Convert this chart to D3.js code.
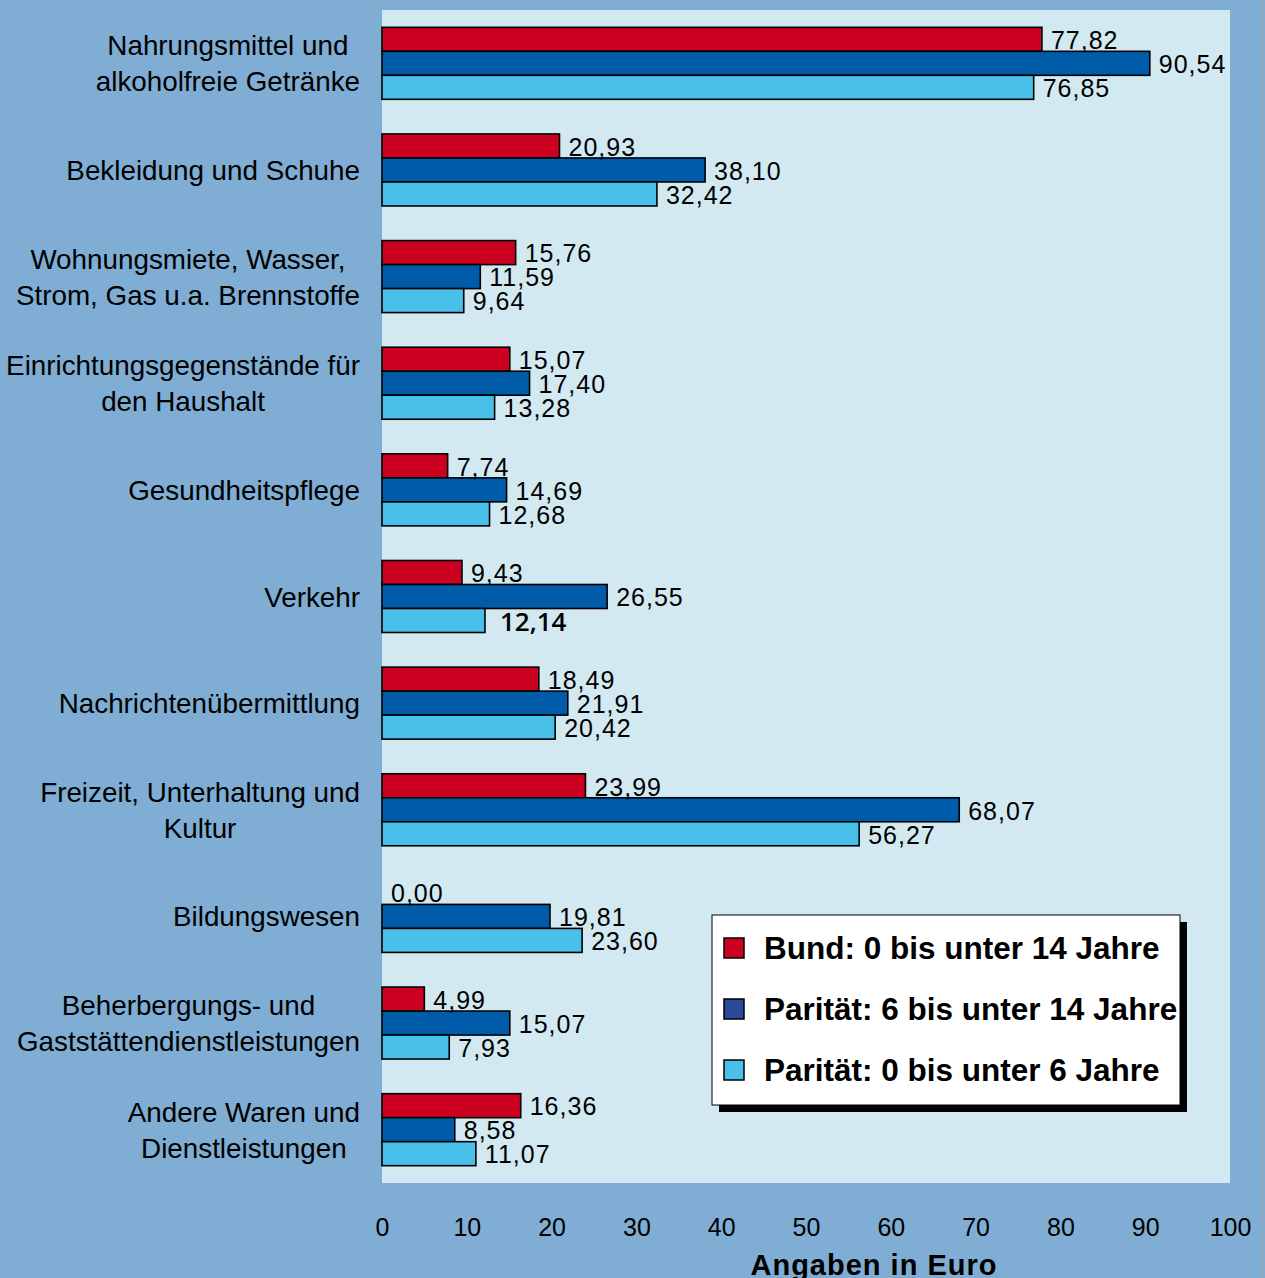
<!DOCTYPE html>
<html>
<head>
<meta charset="utf-8">
<script src="https://cdn.jsdelivr.net/npm/d3@7"></script>
<style>
body { margin: 0; background: #7fadd3; }
svg { display: block; font-family: "Liberation Sans", Arial, sans-serif; }
</style>
</head>
<body>
<svg width="1265" height="1278"></svg>
<script>

// dados
const categorias = [
    "Nahrungsmittel und|alkoholfreie Getränke",
    "Bekleidung und Schuhe",
    "Wohnungsmiete, Wasser,|Strom, Gas u.a. Brennstoffe",
    "Einrichtungsgegenstände für|den Haushalt",
    "Gesundheitspflege",
    "Verkehr",
    "Nachrichtenübermittlung",
    "Freizeit, Unterhaltung und|Kultur",
    "Bildungswesen",
    "Beherbergungs- und|Gaststättendienstleistungen",
    "Andere Waren und|Dienstleistungen"
];

const series = [
    "Bund: 0 bis unter 14 Jahre",
    "Parität: 6 bis unter 14 Jahre",
    "Parität: 0 bis unter 6 Jahre"
];

const bund_0_14 = [77.82, 20.93, 15.76, 15.07, 7.74, 9.43, 18.49, 23.99, 0.00, 4.99, 16.36];
const paritaet_6_14 = [90.54, 38.10, 11.59, 17.40, 14.69, 26.55, 21.91, 68.07, 19.81, 15.07, 8.58];
const paritaet_0_6 = [76.85, 32.42, 9.64, 13.28, 12.68, 12.14, 20.42, 56.27, 23.60, 7.93, 11.07];

const x_ticks = [0, 10, 20, 30, 40, 50, 60, 70, 80, 90, 100];

const vis = {

    sels : {
        svg : null
    },

    params : {
        plot : { left : 382, right : 1230, top : 10, bottom : 1183 },
        bar_h : 24,
        cores : ["#cc0020", "#005ca8", "#48c0ea"],
        cores_legenda : ["#cc0020", "#2b4a9a", "#48c0ea"],
        fundo_plot : "#d2e9f1",
        destaque : { cat : 5, serie : 2 } // o "12,14" aparece em negrito
    },

    scales : {
        x : null,
        y : null,
        y_serie : null
    },

    data : null,

    utils : {

        monta_dados : function() {

            const valores = [bund_0_14, paritaet_6_14, paritaet_0_6];

            vis.data = categorias.map((cat, i) => ({
                cat : cat,
                i : i,
                valores : valores.map((v, s) => ({ serie : s, valor : v[i], cat : i }))
            }));

        },

        formata : v => d3.format(".2f")(v).replace(".", ",")

    },

    render : {

        scales : function() {

            const p = vis.params.plot;

            vis.scales.x = d3.scaleLinear()
              .domain([0, 100])
              .range([p.left, p.right]);

            vis.scales.y = d3.scaleBand()
              .domain(categorias)
              .range([p.top, p.bottom]);

            vis.scales.y_serie = d3.scaleBand()
              .domain(d3.range(series.length))
              .range([0, vis.params.bar_h * series.length]);

        },

        fundo : function() {

            const p = vis.params.plot;

            vis.sels.svg.append("rect")
              .attr("x", p.left)
              .attr("y", p.top)
              .attr("width", p.right - p.left)
              .attr("height", p.bottom - p.top)
              .attr("fill", vis.params.fundo_plot);

            vis.sels.svg.append("line")
              .attr("x1", 1263.5).attr("x2", 1263.5)
              .attr("y1", 0).attr("y2", 1278)
              .attr("stroke", "#a8a8a8")
              .attr("stroke-width", 1);

        },

        barras : function() {

            const y = vis.scales.y;
            const ys = vis.scales.y_serie;
            const x = vis.scales.x;
            const off = (y.bandwidth() - ys.range()[1]) / 2;

            const grupos = vis.sels.svg
              .selectAll("g.grupo")
              .data(vis.data)
              .join("g")
              .classed("grupo", true)
              .attr("transform", d => `translate(0,${y(d.cat) + off})`);

            grupos.selectAll("rect")
              .data(d => d.valores.filter(v => v.valor > 0))
              .join("rect")
              .attr("x", x(0))
              .attr("y", d => ys(d.serie))
              .attr("width", d => x(d.valor) - x(0))
              .attr("height", ys.bandwidth())
              .attr("fill", d => vis.params.cores[d.serie])
              .attr("stroke", "#000")
              .attr("stroke-width", 1.6);

            grupos.selectAll("text.valor")
              .data(d => d.valores)
              .join("text")
              .classed("valor", true)
              .attr("x", d => x(d.valor) + 9)
              .attr("y", d => ys(d.serie) + ys.bandwidth() / 2 + 1)
              .attr("dy", "0.35em")
              .attr("font-size", 25)
              .attr("letter-spacing", 1)
              .attr("fill", "#000")
              .each(function(d) {
                  const dest = vis.params.destaque;
                  if (d.cat === dest.cat && d.serie === dest.serie) {
                      d3.select(this)
                        .attr("x", x(d.valor) + 15)
                        .attr("font-family", "'Open Sans', sans-serif")
                        .attr("font-weight", 600)
                        .attr("font-size", 26)
                        .attr("letter-spacing", 0);
                  }
              })
              .text(d => vis.utils.formata(d.valor));

        },

        rotulos : function() {

            const y = vis.scales.y;
            const x_dir = 360;
            const entre = 36;

            categorias.forEach(cat => {

                const linhas = cat.split("|");
                const cy = y(cat) + y.bandwidth() / 2;

                const g = vis.sels.svg.append("g");

                const txts = g.selectAll("text")
                  .data(linhas)
                  .join("text")
                  .attr("font-size", 27.8)
                  .attr("fill", "#000")
                  .attr("text-anchor", "middle")
                  .attr("y", (d, i) => cy + (i - (linhas.length - 1) / 2) * entre)
                  .attr("dy", "0.36em")
                  .text(d => d);

                let larg = 0;
                txts.each(function() { larg = Math.max(larg, this.getComputedTextLength()); });

                txts.attr("x", x_dir - larg / 2);

            });

        },

        eixo_x : function() {

            const eixo = d3.axisBottom(vis.scales.x)
              .tickValues(x_ticks)
              .tickSize(0)
              .tickPadding(0)
              .tickFormat(d3.format("d"));

            const g = vis.sels.svg.append("g")
              .attr("transform", `translate(0,1236)`)
              .call(eixo);

            g.select(".domain").remove();

            g.selectAll("text")
              .attr("dy", 0)
              .attr("y", 0)
              .attr("font-size", 25)
              .attr("font-family", "'Liberation Sans', Arial, sans-serif")
              .attr("fill", "#000");

            vis.sels.svg.append("text")
              .attr("x", 874)
              .attr("y", 1275)
              .attr("text-anchor", "middle")
              .attr("font-size", 29)
              .attr("font-weight", "bold")
              .attr("letter-spacing", 1)
              .attr("fill", "#000")
              .text("Angaben in Euro");

        },

        legenda : function() {

            const lx = 712, ly = 915, lw = 468, lh = 190;

            const g = vis.sels.svg.append("g");

            g.append("rect")
              .attr("x", lx + 7).attr("y", ly + 7)
              .attr("width", lw).attr("height", lh)
              .attr("fill", "#000");

            g.append("rect")
              .attr("x", lx).attr("y", ly)
              .attr("width", lw).attr("height", lh)
              .attr("fill", "#fff")
              .attr("stroke", "#000")
              .attr("stroke-width", 1);

            const itens = g.selectAll("g.item")
              .data(series)
              .join("g")
              .classed("item", true)
              .attr("transform", (d, i) => `translate(${lx},${948 + i * 61})`);

            itens.append("rect")
              .attr("x", 12).attr("y", -10)
              .attr("width", 20).attr("height", 20)
              .attr("fill", (d, i) => vis.params.cores_legenda[i])
              .attr("stroke", "#000")
              .attr("stroke-width", 1.5);

            itens.append("text")
              .attr("x", 52)
              .attr("dy", "0.36em")
              .attr("font-size", 31.5)
              .attr("font-weight", "bold")
              .attr("fill", "#000")
              .text(d => d);

        }

    },

    control : {

        init : function() {

            vis.sels.svg = d3.select("svg");
            vis.utils.monta_dados();
            vis.render.scales();
            vis.render.fundo();
            vis.render.barras();
            vis.render.rotulos();
            vis.render.eixo_x();
            vis.render.legenda();

        }

    }

}

vis.control.init();
</script>
</body>
</html>
